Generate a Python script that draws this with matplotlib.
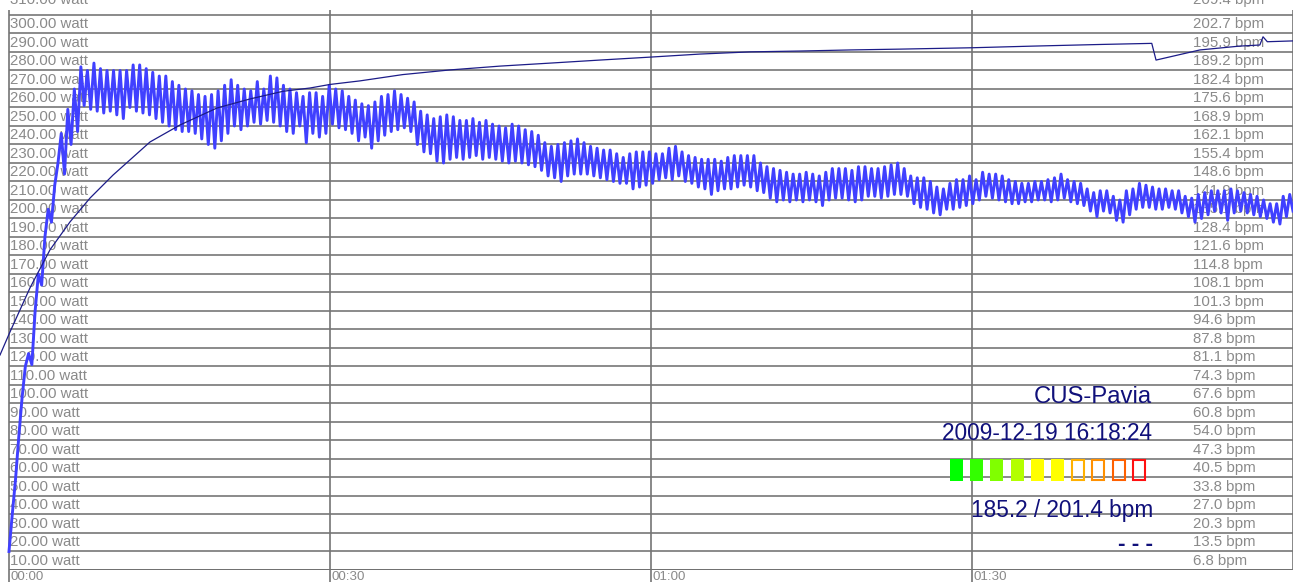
import numpy as np
import matplotlib
matplotlib.use("Agg")
import matplotlib.pyplot as plt
from matplotlib.patches import Rectangle

plt.rcParams['font.family'] = ['Liberation Sans', 'DejaVu Sans']

# ---- data ----
# power (watt): start-up ramp, then pedal-stroke peaks / troughs
watt_ramp = [10, 30, 49, 72, 93, 110, 117, 111, 140, 160, 154, 180, 195, 188,
             208, 220, 236, 214, 249, 230, 260, 237]

watt_peaks = [
    # 00:00 - 00:30
    272, 270, 274, 271, 270, 270, 270, 270, 273, 273, 271, 269, 267, 267, 264,
    262, 260, 259, 257, 256, 257, 259, 262, 265, 262, 260, 259, 264, 260, 267,
    266, 262, 260, 258, 256, 258, 258,
    # 00:30 - 01:00
    256, 262, 260, 259, 256, 254, 252, 251, 253, 256, 257, 259, 257, 255, 253,
    248, 246, 244, 245, 246, 245, 243, 243, 244, 242, 243, 241, 240, 239, 241,
    240, 238, 237, 235, 231, 229, 230, 231, 232, 233, 231, 229, 228, 227, 227,
    225, 223, 225, 226, 226,
    # 01:00 - 01:30
    226, 225, 225, 228, 229, 226, 224, 223, 222, 222, 222, 221, 223, 224, 224,
    224, 224, 220, 218, 217, 216, 215, 214, 214, 215, 214, 213, 215, 217, 217,
    217, 216, 218, 218, 217, 217, 218, 219, 220, 217, 213, 212, 212, 210, 207,
    206, 209, 211, 211, 213,
    # 01:30 - 02:00
    211, 215, 214, 214, 213, 211, 210, 209, 209, 210, 210, 211, 212, 214, 211,
    210, 209, 206, 204, 205, 205, 202, 200, 205, 206, 209, 208, 207, 206, 206,
    205, 205, 202, 201, 203, 204, 205, 205, 205, 206, 205, 204, 203, 202, 200,
    198, 198, 202, 203,
]

watt_troughs = [
    251, 249, 248, 247, 248, 246, 244, 250, 248, 247, 246, 244, 242, 240, 238,
    237, 237, 236, 233, 230, 228, 232, 236, 240, 238, 240, 242, 241, 243, 242,
    240, 237, 236, 240, 231, 236, 234,
    236, 241, 239, 238, 236, 232, 234, 228, 232, 235, 237, 238, 239, 237, 230,
    226, 225, 221, 220, 222, 223, 222, 223, 224, 222, 223, 222, 221, 220, 221,
    220, 219, 218, 216, 213, 212, 210, 213, 214, 214, 214, 213, 212, 211, 210,
    209, 209, 206, 207, 208,
    209, 211, 212, 211, 213, 210, 209, 207, 206, 203, 205, 206, 206, 207, 208,
    207, 205, 204, 201, 199, 200, 199, 200, 199, 200, 199, 197, 200, 201, 201,
    200, 199, 200, 202, 202, 201, 202, 203, 203, 202, 198, 196, 195, 193, 192,
    195, 195, 196, 197, 198,
    200, 202, 201, 200, 199, 198, 198, 199, 199, 200, 200, 199, 200, 201, 199,
    198, 197, 194, 191, 194, 193, 189, 188, 192, 195, 196, 196, 195, 195, 196,
    195, 193, 191, 188, 190, 192, 194, 193, 189, 193, 194, 193, 192, 191, 190,
    188, 187, 191, 194,
]

# heart rate (bpm) vs time (minutes)
bpm_time = [-0.84, 0.09, 1.96, 3.83, 5.7, 7.57, 9.72, 13.18, 15.98, 19.44,
            22.52, 25.61, 28.13, 30.0, 32.8, 36.8, 41.2, 45.9, 50.6, 55.2,
            60.0, 64.6, 69.3, 73.9, 78.6, 83.3, 90.0, 95.7, 102.0, 106.8,
            107.2, 111.3, 115.0, 116.9, 117.2, 117.6, 120.0]
bpm_vals = [78.5, 86.9, 103.0, 116.9, 127.1, 135.8, 144.2, 156.3, 162.5, 168.7,
            172.0, 174.8, 176.0, 177.3, 178.6, 180.9, 182.6, 184.0, 185.1, 186.2,
            187.3, 188.4, 189.2, 189.5, 189.9, 190.2, 190.7, 191.3, 191.9, 192.3,
            186.2, 189.9, 191.3, 191.7, 194.7, 192.9, 193.2]

watt_ticks = list(range(10, 320, 10))
bpm_labels = ["6.8", "13.5", "20.3", "27.0", "33.8", "40.5", "47.3", "54.0",
              "60.8", "67.6", "74.3", "81.1", "87.8", "94.6", "101.3", "108.1",
              "114.8", "121.6", "128.4", "135.1", "141.9", "148.6", "155.4",
              "162.1", "168.9", "175.6", "182.4", "189.2", "195.9", "202.7", "209.4"]
time_ticks = [0, 30, 60, 90]
time_labels = ["00:00", "00:30", "01:00", "01:30"]

zone_colors = ['#00ff00', '#33ff00', '#80ff00', '#b3ff00', '#ffff00',
               '#ffff00', '#ffb000', '#ff9000', '#ff6000', '#ff1010']
zones_filled = 6

# ---- build the watt series ----
watt = np.concatenate([watt_ramp,
                       np.column_stack([watt_peaks, watt_troughs]).ravel()])
watt_time = np.linspace(0, 120, len(watt))

W, H = 1294, 582
fig = plt.figure(figsize=(W / 100, H / 100), dpi=100)
ax = fig.add_axes([0, 12 / H, 1293 / W, 570 / H])
ax.set_xlim(-0.84, 120)
ax.set_ylim(0, 308.1)
ax.set_axis_off()

# grid
ax.hlines(watt_ticks[:-1], 0, 120, color='#8a8a8a', lw=1.4, zorder=1)
ax.hlines([0], 0, 120, color='#555555', lw=1.2, zorder=1)
ax.vlines(time_ticks, -6.6, 302.7, color='#747474', lw=1.2, zorder=1, clip_on=False)
ax.vlines([120], 0, 302.7, color='#747474', lw=1.2, zorder=1)

lab_kw = dict(color='#8a8a8a', fontsize=10.8, va='center', zorder=2)
for v in watt_ticks:
    y = v - 5 if v < 310 else 308.3
    ax.text(0.12, y, f"{v:.2f} watt", ha='left', clip_on=True, **lab_kw)
for v, s in zip(watt_ticks, bpm_labels):
    y = v - 5 if v < 310 else 308.3
    ax.text(110.65, y, f"{s} bpm", ha='left', clip_on=True, **lab_kw)
for t, s in zip(time_ticks, time_labels):
    ax.text(t + 0.1, -0.3, s, ha='left', va='top', color='#8a8a8a',
            fontsize=9.6, clip_on=False)

# series
ax.plot(watt_time, watt, color='#4040ff', lw=2.1, zorder=4)
ax2 = ax.twinx()
ax2.set_axis_off()
ax2.set_ylim(0, 308.1 * 0.67555)
ax2.plot(bpm_time, bpm_vals, color='#1c1c88', lw=0.9, zorder=5)

# info block
navy = '#10107a'
fig.text(1152 / W, 1 - 403 / H, "CUS-Pavia", color=navy, fontsize=17.2,
         ha='right', va='baseline')
fig.text(1152 / W, 1 - 440 / H, "2009-12-19 16:18:24", color=navy, fontsize=16.3,
         ha='right', va='baseline')
fig.text(1153 / W, 1 - 517 / H, "185.2 / 201.4 bpm", color=navy, fontsize=16.3,
         ha='right', va='baseline')
fig.text(1153 / W, 1 - 551 / H, "- - -", color=navy, fontsize=16.3,
         fontweight='bold', ha='right', va='baseline')

for i, c in enumerate(zone_colors):
    x0 = 950 + i * 20.2
    if i < zones_filled:
        r = Rectangle((x0 / W, 1 - 481 / H), 13 / W, 22 / H, transform=fig.transFigure,
                      facecolor=c, edgecolor='none')
    else:
        r = Rectangle(((x0 + 1) / W, 1 - 480 / H), 12 / W, 20 / H,
                      transform=fig.transFigure, facecolor='none', edgecolor=c, lw=1.5)
    fig.patches.append(r)

fig.savefig("out.png", dpi=100)
